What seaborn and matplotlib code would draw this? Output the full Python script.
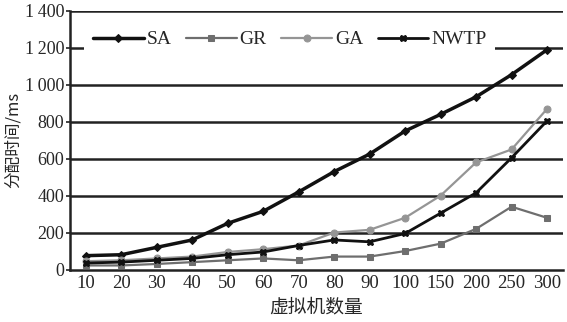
import matplotlib
matplotlib.use("Agg")
import matplotlib.pyplot as plt
import seaborn as sns
import pandas as pd

# Number of virtual machines (categorical x axis)
vm_counts = ["10", "20", "30", "40", "50", "60", "70", "80", "90", "100", "150", "200", "250", "300"]

# Allocation time in ms for each algorithm
sa = [75, 80, 120, 160, 250, 315, 420, 530, 625, 750, 840, 935, 1055, 1190]
gr = [22, 22, 30, 40, 50, 60, 50, 70, 70, 100, 140, 220, 340, 280]
ga = [45, 50, 60, 70, 95, 110, 130, 200, 215, 280, 400, 580, 650, 870]
nwtp = [35, 40, 50, 60, 80, 95, 130, 160, 150, 195, 305, 415, 605, 805]

series_names = ["SA", "GR", "GA", "NWTP"]
series_values = [sa, gr, ga, nwtp]

y_ticks = [0, 200, 400, 600, 800, 1000, 1200, 1400]
y_tick_labels = ["0", "200", "400", "600", "800", "1\u2009000", "1\u2009200", "1\u2009400"]

frames = []
for name, vals in zip(series_names, series_values):
    frames.append(pd.DataFrame({"vm": vm_counts, "time": vals, "algo": name}))
df = pd.concat(frames, ignore_index=True)

sns.set_style("white")
plt.rcParams["font.family"] = ["Liberation Serif", "DejaVu Serif"]

fig = plt.figure(figsize=(5.67, 3.22), dpi=100)
ax = fig.add_axes([0.123, 0.163, 0.870, 0.803])

styles = {
    "SA": dict(color="#111111", marker="D", markersize=4.5, lw=2.5),
    "GR": dict(color="#6e6e6e", marker="s", markersize=5, lw=1.6),
    "GA": dict(color="#959595", marker="o", markersize=5, lw=1.6),
    "NWTP": dict(color="#111111", marker="X", markersize=5, lw=2.0),
}

# horizontal grid drawn first so the series sit on top
for yv in y_ticks[1:]:
    ax.axhline(yv, color="#222222", lw=1.8, zorder=0)

for name in series_names:
    st = styles[name]
    sub = df[df["algo"] == name]
    sns.lineplot(data=sub, x="vm", y="time", ax=ax, color=st["color"],
                 marker=st["marker"], markersize=st["markersize"], lw=st["lw"],
                 markeredgecolor=st["color"], label=name, sort=False, zorder=3)

ax.set_xlim(-0.45, len(vm_counts) - 0.55)
ax.set_ylim(0, 1400)
ax.set_yticks(y_ticks)
ax.set_yticklabels(y_tick_labels)
ax.tick_params(axis="y", which="major", length=3, width=1.2, color="#222222",
               labelsize=13, pad=1, left=True)
ax.tick_params(axis="x", length=0, labelsize=13.5, pad=4)

for side in ["top", "right"]:
    ax.spines[side].set_visible(False)
ax.spines["left"].set_color("#222222")
ax.spines["left"].set_linewidth(1.8)
ax.spines["bottom"].set_color("#222222")
ax.spines["bottom"].set_linewidth(1.8)

ax.set_xlabel("虚拟机数量", family=["Noto Sans CJK SC", "DejaVu Sans"],
              fontsize=13.5, labelpad=3)
ax.set_ylabel("分配时间/ms", family=["Noto Sans CJK SC", "DejaVu Sans"],
              fontsize=12, labelpad=2)

leg = ax.legend(loc="upper left", bbox_to_anchor=(0.01, 0.995), ncol=4,
                frameon=True, facecolor="white", edgecolor="none", framealpha=1,
                fontsize=14, handlelength=2.6, handletextpad=0.15,
                columnspacing=0.75, borderpad=0.45, fancybox=False)
leg.set_zorder(5)

fig.savefig("out.png", dpi=100)
